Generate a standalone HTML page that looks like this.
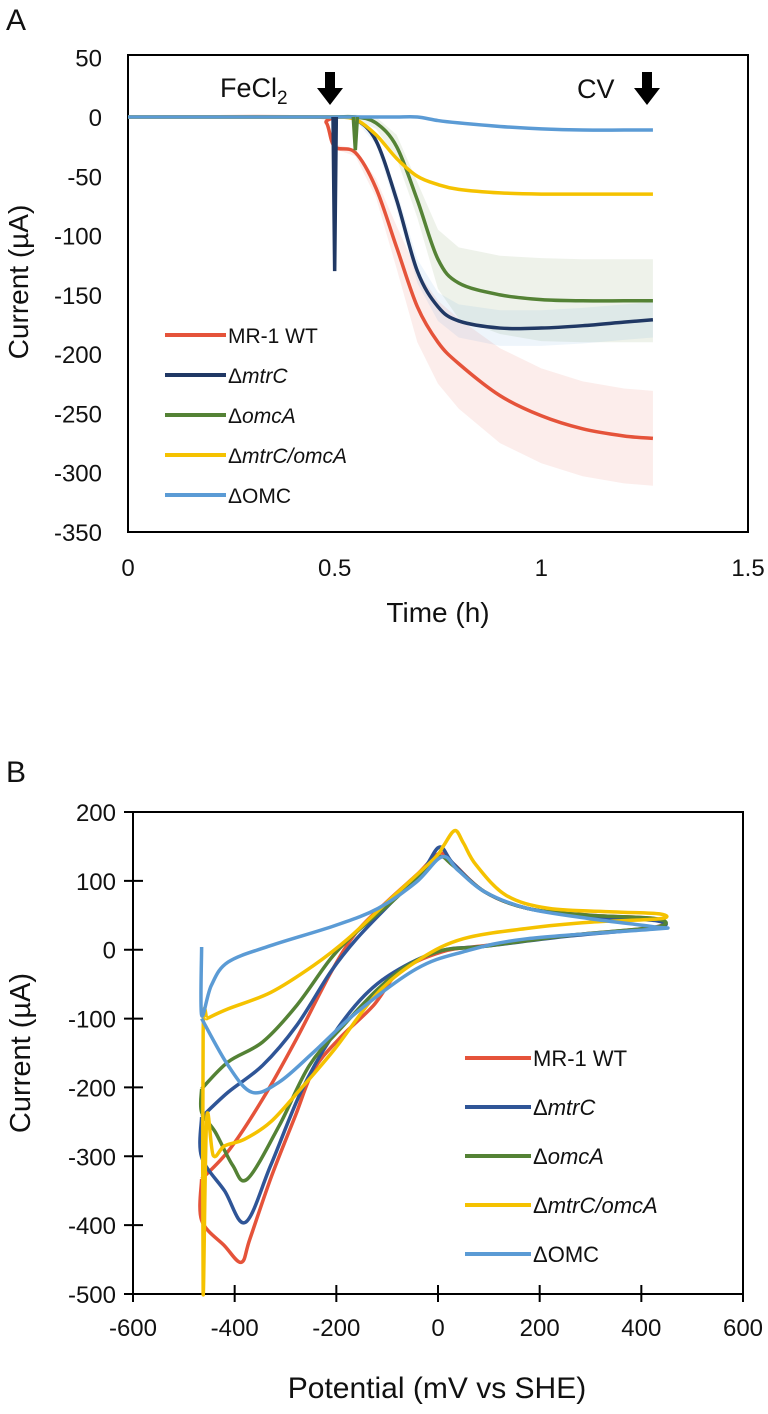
<!DOCTYPE html>
<html><head><meta charset="utf-8"><style>
body{margin:0;background:#fff}
svg text{font-family:"Liberation Sans",Arial,sans-serif;fill:#111}
</style></head><body>
<svg id="chart" width="768" height="1409" xmlns="http://www.w3.org/2000/svg">
<text x="6" y="30" font-size="30">A</text>
<text x="6" y="782" font-size="30">B</text>
<g id="pa"></g>
<g id="pb"></g>
</svg>
<script>
// ---------- Panel A data ----------
const aXTicks=[0,0.5,1,1.5];
const aYTicks=[50,0,-50,-100,-150,-200,-250,-300,-350];
const aNames=["MR-1 WT","mtrC","omcA","mtrC/omcA","OMC"];
const aTime=[0,0.45,0.48,0.5,0.55,0.6,0.65,0.7,0.75,0.8,0.9,1.0,1.1,1.2,1.27];
const aWT=[0,0,-5,-25,-30,-60,-110,-160,-190,-208,-235,-252,-263,-269,-271];
const aMtrC=[0,0,0,0,-2,-20,-70,-130,-160,-172,-178,-178,-176,-173,-171];
const aOmcA=[0,0,0,0,0,-5,-25,-70,-120,-140,-150,-154,-155,-155,-155];
const aMtrCOmcA=[0,0,0,0,-2,-15,-35,-50,-57,-61,-64,-65,-65,-65,-65];
const aOMC=[0,0,0,0,0,0,0,0,-3,-5,-8,-10,-11,-11,-11];
const aWTErr=[0,0,0,2,3,8,18,30,35,38,40,40,40,40,40];
const aMtrCErr=[0,0,0,0,1,3,8,10,12,14,15,15,15,15,15];
const aOmcAErr=[0,0,0,0,2,5,10,15,25,30,33,35,35,35,35];
const spikeMtrC=[0.5,-130];
const spikeOmcA=[0.55,-28];

// ---------- Panel B data ----------
const bXTicks=[-600,-400,-200,0,200,400,600];
const bYTicks=[200,100,0,-100,-200,-300,-400,-500];
const bWT=[[-465,-333],[-410,-290],[-345,-217],[-278,-129],[-210,-32],[-160,26],[-100,70],[-40,110],[3,140],[30,125],[92,84],[176,60],[300,50],[428,45],[428,33],[260,21],[92,6],[8,-3],[-76,-32],[-127,-81],[-194,-129],[-245,-175],[-280,-240],[-328,-330],[-370,-420],[-387,-454],[-420,-430],[-465,-393],[-465,-333]];
const bMtrC=[[-465,-243],[-413,-207],[-345,-168],[-278,-110],[-211,-32],[-160,16],[-90,70],[-30,115],[3,149],[30,125],[92,84],[176,60],[300,48],[430,42],[430,32],[260,20],[92,5],[8,-1],[-76,-28],[-144,-66],[-211,-129],[-270,-207],[-329,-313],[-379,-396],[-420,-350],[-465,-301],[-465,-243]];
const bOmcA=[[-465,-202],[-413,-163],[-345,-134],[-278,-81],[-211,-13],[-160,26],[-90,70],[-30,112],[3,135],[30,122],[92,84],[176,60],[300,50],[430,45],[430,33],[260,21],[92,5],[8,-1],[-60,-23],[-118,-57],[-186,-110],[-253,-168],[-312,-255],[-375,-333],[-404,-313],[-438,-265],[-465,-236],[-465,-202]];
const bMtrCOmcA=[[-455,-100],[-413,-86],[-329,-62],[-245,-23],[-177,16],[-93,74],[-8,132],[10,150],[33,173],[50,155],[75,123],[134,79],[218,60],[344,55],[436,52],[436,45],[302,40],[176,31],[50,16],[-34,-13],[-118,-62],[-203,-144],[-270,-202],[-329,-250],[-380,-275],[-420,-285],[-442,-299],[-455,-245],[-462,-500],[-462,-120],[-455,-100]];
const bOMC=[[-465,4],[-465,-95],[-446,-52],[-413,-18],[-329,6],[-203,35],[-118,60],[-43,98],[8,135],[40,115],[92,84],[176,60],[300,45],[428,33],[428,30],[176,16],[50,-3],[-43,-28],[-160,-91],[-245,-149],[-312,-192],[-366,-207],[-413,-168],[-465,-100]];

const colors=["#e5533a","#203864","#548235","#f5c200","#5b9bd5"];
const colorsB=["#e5533a","#2f5597","#548235","#f5c200","#5b9bd5"];
const NS="http://www.w3.org/2000/svg";
function mk(parent,tag,attrs,text){const e=document.createElementNS(NS,tag);for(const k in attrs)e.setAttribute(k,attrs[k]);if(text!==undefined)e.textContent=text;parent.appendChild(e);return e;}
function smooth(P){if(P.length<3)return 'M'+P.map(p=>p.join(',')).join(' L');
let d='M'+P[0][0]+','+P[0][1];
for(let i=0;i<P.length-1;i++){const p0=P[i-1]||P[i],p1=P[i],p2=P[i+1],p3=P[i+2]||P[i+1];const t=0.5/3;
const c1=[p1[0]+(p2[0]-p0[0])*t,p1[1]+(p2[1]-p0[1])*t],c2=[p2[0]-(p3[0]-p1[0])*t,p2[1]-(p3[1]-p1[1])*t];
d+=' C'+c1.join(',')+' '+c2.join(',')+' '+p2.join(',');}return d;}

// ---- Panel A ----
const pa=document.getElementById('pa');
const ax=v=>128+v/1.5*620, ay=v=>117-v*(415/350);
let e=mk(pa,'rect',{x:128,y:55,width:620,height:477,fill:'none',stroke:'#000','stroke-width':2});

aYTicks.forEach(t=>{let tx=mk(pa,'text',{x:102,y:ay(t)+9,'font-size':24,'text-anchor':'end'},t);
});
aXTicks.forEach(t=>{let tx=mk(pa,'text',{x:ax(t),y:576,'font-size':24,'text-anchor':'middle'},t);
});
e=mk(pa,'text',{x:438,y:622,'font-size':28,'text-anchor':'middle'},'Time (h)');

e=mk(pa,'text',{x:0,y:0,'font-size':28,'text-anchor':'middle',transform:'translate(28,282) rotate(-90)'},'Current (µA)');

function band(vals,err,col,name){let up=aTime.map((t,i)=>ax(t)+','+ay(vals[i]+err[i]));let lo=aTime.map((t,i)=>ax(t)+','+ay(vals[i]-err[i])).reverse();
let p=mk(pa,'polygon',{points:up.concat(lo).join(' '),fill:col,opacity:0.1});
}
band(aWT,aWTErr,colors[0],'error-band-wt');
band(aOmcA,aOmcAErr,colors[2],'error-band-omca');
band(aMtrC,aMtrCErr,colors[4],'error-band-mtrc');
const aSeries=[aWT,aMtrC,aOmcA,aMtrCOmcA,aOMC];
aSeries.forEach((s,k)=>{let pts=aTime.map((t,i)=>[ax(t),ay(s[i])]);
let p=mk(pa,'path',{d:smooth(pts),fill:'none',stroke:colors[k],'stroke-width':3.5,'stroke-linejoin':'round'});
});
[[spikeMtrC,colors[1],0.004,'spike-mtrc'],[spikeOmcA,colors[2],0.005,'spike-omca']].forEach(([sp,c,w,n])=>{
let p=mk(pa,'polyline',{points:[ax(sp[0]-w)+','+ay(0),ax(sp[0])+','+ay(sp[1]),ax(sp[0]+w)+','+ay(0)].join(' '),fill:'none',stroke:c,'stroke-width':3.5});
});
const legA=mk(pa,'g',{});
aNames.forEach((n,k)=>{const y=335+k*40;
let l=mk(legA,'line',{x1:165,x2:226,y1:y,y2:y,stroke:colors[k],'stroke-width':4});

let t=mk(legA,'text',{x:228,y:y+8,'font-size':21});

if(k===0)t.textContent=n;else{mk(t,'tspan',{},'Δ');mk(t,'tspan',{'font-style':k===4?'normal':'italic'},n);}});
e=mk(pa,'text',{x:220,y:97,'font-size':27},'FeCl');mk(e,'tspan',{'font-size':19,dy:7},'2');

e=mk(pa,'text',{x:577,y:98,'font-size':27},'CV');

[330,647].forEach(x=>{let a=mk(pa,'path',{d:`M${x-5},72 h10 v16 h8 l-13,17 l-13,-17 h8 z`,fill:'#000'});
});

// ---- Panel B ----
const pb=document.getElementById('pb');
const bx=v=>133+(v+600)/1200*610, by=v=>812-(v-200)*(482/700);
e=mk(pb,'rect',{x:133,y:812,width:610,height:482,fill:'none',stroke:'#000','stroke-width':2});

bYTicks.forEach(t=>{mk(pb,'line',{x1:124,x2:143,y1:by(t),y2:by(t),stroke:'#000','stroke-width':2});
let tx=mk(pb,'text',{x:116,y:by(t)+9,'font-size':24,'text-anchor':'end'},t);
});
bXTicks.forEach(t=>{mk(pb,'line',{x1:bx(t),x2:bx(t),y1:1285,y2:1302,stroke:'#000','stroke-width':2});
let tx=mk(pb,'text',{x:bx(t),y:1336,'font-size':24,'text-anchor':'middle'},t);
});
e=mk(pb,'text',{x:437,y:1398,'font-size':30,'text-anchor':'middle'},'Potential (mV vs SHE)');

e=mk(pb,'text',{x:0,y:0,'font-size':29,'text-anchor':'middle',transform:'translate(30,1053) rotate(-90)'},'Current (µA)');

const bSeries=[bWT,bMtrC,bOmcA,bMtrCOmcA,bOMC];
bSeries.forEach((s,k)=>{let p=mk(pb,'path',{d:smooth(s.map(d=>[bx(d[0]),by(d[1])])),fill:'none',stroke:colorsB[k],'stroke-width':3.5,'stroke-linejoin':'round'});
});
const legB=mk(pb,'g',{});
aNames.forEach((n,k)=>{const y=1058+k*49;
let l=mk(legB,'line',{x1:465,x2:531,y1:y,y2:y,stroke:colorsB[k],'stroke-width':4});

let t=mk(legB,'text',{x:533,y:y+8,'font-size':22});

if(k===0)t.textContent=n;else{mk(t,'tspan',{},'Δ');mk(t,'tspan',{'font-style':k===4?'normal':'italic'},n);}});
</script>
</body></html>
